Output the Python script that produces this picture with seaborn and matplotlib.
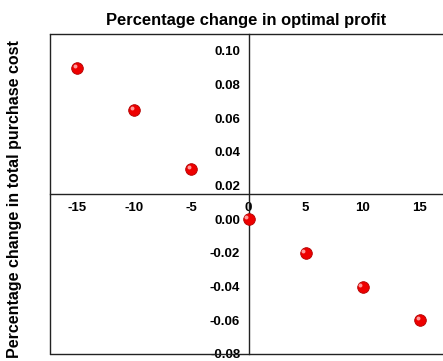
import matplotlib
matplotlib.use("Agg")
import matplotlib.pyplot as plt
import matplotlib.transforms as mtransforms
from matplotlib.ticker import MultipleLocator, FormatStrFormatter
import seaborn as sns
import pandas as pd

# Percentage change in optimal profit vs. percentage change in total purchase cost
profit_change = [-15, -10, -5, 0, 5, 10, 15]
cost_change = [0.09, 0.065, 0.03, 0.0, -0.02, -0.04, -0.06]
x_ticks = [-15, -10, -5, 0, 5, 10, 15]
y_ticks = [-0.08, -0.06, -0.04, -0.02, 0.00, 0.02, 0.04, 0.06, 0.08, 0.10]

df = pd.DataFrame({"profit": profit_change, "cost": cost_change})

sns.set_style("white")
plt.rcParams["font.family"] = ["Liberation Sans", "DejaVu Sans"]
plt.rcParams["font.weight"] = "bold"
plt.rcParams["axes.unicode_minus"] = False
plt.rcParams["text.color"] = "black"
plt.rcParams["xtick.color"] = "black"
plt.rcParams["ytick.color"] = "black"

fig = plt.figure(figsize=(4.43, 3.61), dpi=100)
ax = fig.add_axes([50 / 443, 7 / 361, 397 / 443, 320 / 361])

sns.scatterplot(data=df, x="profit", y="cost", ax=ax, color="#ee0000",
                s=70, edgecolor="#b00000", linewidth=0.6, zorder=5, legend=False)
# small highlight to give the markers a glossy look
hl = mtransforms.offset_copy(ax.transData, fig=fig, x=-1.5, y=1.5, units="points")
ax.scatter(df["profit"], df["cost"], s=8, color="#ff9a9a", transform=hl,
           zorder=6, linewidths=0)

ax.set_xlim(-17.4, 17.4)
ax.set_ylim(-0.08, 0.11)

# crossing axes
ax.spines["left"].set_position(("data", 0))
ax.spines["bottom"].set_position(("data", 0.015))
for s in ["left", "bottom", "top", "right"]:
    ax.spines[s].set_color("#222222")
    ax.spines[s].set_linewidth(1.0)

# outer frame on the left and bottom
ax.plot([0, 0], [0, 1], transform=ax.transAxes, color="#222222", lw=1.0, clip_on=False)
ax.plot([0, 1], [0, 0], transform=ax.transAxes, color="#222222", lw=1.0, clip_on=False)

ax.set_xticks(x_ticks)
ax.set_yticks(y_ticks)
ax.xaxis.set_minor_locator(MultipleLocator(2.5))
ax.yaxis.set_minor_locator(MultipleLocator(0.01))
ax.yaxis.set_major_formatter(FormatStrFormatter("%.2f"))
ax.tick_params(axis="both", which="major", direction="out", length=4, width=1,
               labelsize=9.5, color="#222222", labelcolor="black", pad=2)
ax.tick_params(axis="both", which="minor", direction="out", length=2, width=1,
               color="#222222")
ax.tick_params(top=False, right=False, which="both")
for lab in ax.get_xticklabels() + ax.get_yticklabels():
    lab.set_fontweight("bold")

ax.set_xlabel("")
ax.set_ylabel("")
fig.text(246 / 443, 1 - 20 / 361, "Percentage change in optimal profit",
         ha="center", va="center", fontsize=11.9, fontweight="bold")
fig.text(15 / 443, 1 - 199 / 361, "Percentage change in total purchase cost",
         ha="center", va="center", rotation=90, fontsize=11.5, fontweight="bold")

fig.savefig("out.png", dpi=100)
